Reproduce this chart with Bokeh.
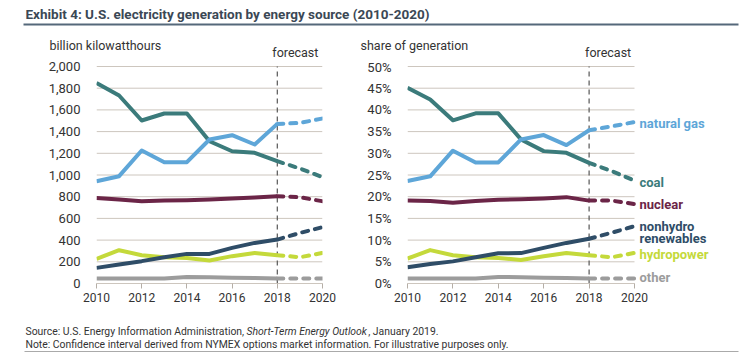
from bokeh.plotting import figure
from bokeh.models import (Range1d, FixedTicker, NumeralTickFormatter, PrintfTickFormatter,
                          Label, BoxAnnotation)
from bokeh.layouts import column, row
from bokeh.embed import file_html
from bokeh.resources import INLINE

# ---------------- data ----------------
years = [2010, 2011, 2012, 2013, 2014, 2015, 2016, 2017, 2018, 2019, 2020]
forecast_year = 2018

series = ["natural gas", "coal", "nuclear", "nonhydro renewables", "hydropower", "other"]

# billion kilowatthours
gas_bkwh = [943, 989, 1226, 1118, 1118, 1327, 1367, 1281, 1471, 1480, 1521]
coal_bkwh = [1849, 1733, 1502, 1567, 1567, 1311, 1219, 1204, 1127, 1060, 980]
nuclear_bkwh = [789, 775, 758, 765, 768, 775, 783, 792, 805, 795, 758]
renew_bkwh = [144, 175, 206, 242, 273, 273, 328, 374, 405, 466, 519]
hydro_bkwh = [227, 307, 261, 242, 236, 212, 252, 282, 261, 242, 282]
other_bkwh = [46, 46, 46, 46, 60, 58, 54, 50, 46, 46, 46]

# share of generation (%)
gas_pct = [23.6, 24.7, 30.6, 27.9, 27.9, 33.2, 34.2, 31.9, 35.3, 36.2, 37.2]
coal_pct = [45.1, 42.4, 37.6, 39.2, 39.2, 33.2, 30.5, 30.1, 27.8, 25.9, 23.7]
nuclear_pct = [19.1, 19.0, 18.6, 19.0, 19.3, 19.4, 19.6, 19.9, 19.1, 19.1, 18.3]
renew_pct = [3.75, 4.5, 5.1, 6.06, 6.98, 7.0, 8.2, 9.35, 10.3, 11.7, 13.2]
hydro_pct = [5.75, 7.7, 6.5, 6.06, 5.9, 5.4, 6.3, 7.05, 6.5, 6.06, 7.05]
other_pct = [1.15, 1.15, 1.15, 1.15, 1.5, 1.45, 1.35, 1.25, 1.15, 1.15, 1.15]

left_ticks = [0, 200, 400, 600, 800, 1000, 1200, 1400, 1600, 1800, 2000]
right_ticks = [0, 5, 10, 15, 20, 25, 30, 35, 40, 45, 50]
x_ticks = [2010, 2012, 2014, 2016, 2018, 2020]

title_text = "Exhibit 4: U.S. electricity generation by energy source (2010-2020)"
left_axis_title = "billion kilowatthours"
right_axis_title = "share of generation"
forecast_text = "forecast"
source_a = "Source: U.S. Energy Information Administration,"
source_b = "Short-Term Energy Outlook"
source_c = ", January 2019."
note_text = "Note: Confidence interval derived from NYMEX options market information. For illustrative purposes only."

left_values = dict(zip(series, [gas_bkwh, coal_bkwh, nuclear_bkwh, renew_bkwh, hydro_bkwh, other_bkwh]))
right_values = dict(zip(series, [gas_pct, coal_pct, nuclear_pct, renew_pct, hydro_pct, other_pct]))

# ---------------- styles / layout ----------------
colors = {
    "natural gas": "#5ea6d8",
    "coal": "#3b7b7b",
    "nuclear": "#6b2547",
    "nonhydro renewables": "#2f4d67",
    "hydropower": "#c4d93b",
    "other": "#9c9c9c",
}
# label vertical offsets (px, up positive) relative to each series' final value
label_lines = {
    "natural gas": [("natural gas", -1)],
    "coal": [("coal", -2)],
    "nuclear": [("nuclear", 0)],
    "nonhydro renewables": [("nonhydro", 0), ("renewables", -12.5)],
    "hydropower": [("hydropower", -2)],
    "other": [("other", 1)],
}
FONT = "Roboto"
TEXT = "#333333"
GRID = "#cdc6be"

TOTAL_W = 745
TOP_H = 59
ROW_H = 251
FOOT_H = 42
FRAME_H = 224        # frame: from top of chart row to the zero line
GRID_H = 217         # pixels between zero line and top tick
BOTTOM_B = ROW_H - FRAME_H
LEFT_W, LEFT_BL, LEFT_BR, LEFT_DW = 358, 96, 36, 226
RIGHT_W, RIGHT_BL, RIGHT_BR, RIGHT_DW = TOTAL_W - 358, 49, 0, 227


def chart(values, ticks, formatter, width, b_left, b_right, data_w, labels=False):
    frame_w = width - b_left - b_right
    x_end = years[0] + (years[-1] - years[0]) * frame_w / data_w
    y_end = ticks[-1] * FRAME_H / GRID_H
    p = figure(width=width, height=ROW_H,
               x_range=Range1d(years[0], x_end), y_range=Range1d(0, y_end),
               output_backend="svg", toolbar_location=None,
               min_border_left=b_left, min_border_right=b_right,
               min_border_top=0, min_border_bottom=BOTTOM_B)
    p.outline_line_color = None
    p.xgrid.visible = False
    p.ygrid.visible = False

    # horizontal grid lines over the 2010-2020 span
    p.segment(x0=[years[0]] * len(ticks), x1=[years[-1]] * len(ticks), y0=ticks, y1=ticks,
              line_color=GRID, line_width=1)

    p.yaxis.ticker = FixedTicker(ticks=ticks)
    p.yaxis.formatter = formatter
    p.yaxis.axis_line_color = None
    p.yaxis.major_tick_line_color = None
    p.yaxis.minor_tick_line_color = None
    p.yaxis.major_tick_out = 0
    p.yaxis.major_tick_in = 0
    p.yaxis.major_label_standoff = 16
    p.yaxis.major_label_text_font = FONT
    p.yaxis.major_label_text_font_size = "13px"
    p.yaxis.major_label_text_color = TEXT

    p.xaxis.ticker = FixedTicker(ticks=x_ticks)
    p.xaxis.bounds = (years[0], years[-1])
    p.xaxis.axis_line_color = GRID
    p.xaxis.major_tick_line_color = "#b5aea6"
    p.xaxis.major_tick_out = 5
    p.xaxis.major_tick_in = 0
    p.xaxis.minor_tick_line_color = None
    p.xaxis.major_label_standoff = 4
    p.xaxis.major_label_text_font = FONT
    p.xaxis.major_label_text_font_size = "12px"
    p.xaxis.major_label_text_color = TEXT

    # forecast divider
    p.segment(x0=[forecast_year], x1=[forecast_year], y0=[0], y1=[ticks[-1]],
              line_color="#555555", line_dash="5 4", line_width=1.2)

    i = years.index(forecast_year)
    for name in reversed(series):
        v = values[name]
        p.line(years[:i + 1], v[:i + 1], line_color=colors[name], line_width=4,
               line_join="round")
        p.line(years[i:], v[i:], line_color=colors[name], line_width=4,
               line_dash="6 7", line_cap="round")
        if labels:
            for txt, dy in label_lines[name]:
                p.add_layout(Label(x=years[-1], y=v[-1], x_offset=5, y_offset=dy, text=txt,
                                   text_align="left", text_baseline="middle",
                                   text_font=FONT, text_font_style="bold",
                                   text_font_size="13px", text_color=colors[name]))
    return p


pl = chart(left_values, left_ticks, NumeralTickFormatter(format="0,0"),
           LEFT_W, LEFT_BL, LEFT_BR, LEFT_DW)
pr = chart(right_values, right_ticks, PrintfTickFormatter(format="%d%%"),
           RIGHT_W, RIGHT_BL, RIGHT_BR, RIGHT_DW, labels=True)


def blank(h):
    f = figure(width=TOTAL_W, height=h, x_range=Range1d(0, TOTAL_W), y_range=Range1d(h, 0),
               output_backend="svg", toolbar_location=None,
               x_axis_type=None, y_axis_type=None, min_border=0)
    f.outline_line_color = None
    f.xgrid.visible = False
    f.ygrid.visible = False
    return f


frac = (forecast_year - years[0]) / (years[-1] - years[0])
forecast_x_left = LEFT_BL + LEFT_DW * frac - 5
forecast_x_right = LEFT_W + RIGHT_BL + RIGHT_DW * frac - 4

tf = blank(TOP_H)
tf.add_layout(Label(x=25, y=13, text=title_text, text_align="left",
                    text_baseline="middle", text_font=FONT, text_font_style="bold",
                    text_font_size="13.5px", text_color="#3b4855"))
tf.add_layout(BoxAnnotation(left=23, right=738, top=23, bottom=25, fill_color="#55687a",
                            fill_alpha=1, line_color=None))
tf.add_layout(Label(x=49, y=44.5, text=left_axis_title, text_align="left",
                    text_baseline="middle", text_font=FONT, text_font_size="12.5px",
                    text_color=TEXT))
tf.add_layout(Label(x=360, y=44.5, text=right_axis_title, text_align="left",
                    text_baseline="middle", text_font=FONT, text_font_size="12.5px",
                    text_color=TEXT))
for fx in (forecast_x_left, forecast_x_right):
    tf.add_layout(Label(x=fx, y=52, text=forecast_text, text_align="left",
                        text_baseline="middle", text_font=FONT, text_font_size="12.5px",
                        text_color=TEXT))

ff = blank(FOOT_H)
FS = "10.4px"
ff.add_layout(Label(x=25, y=21.3, text=source_a, text_align="left", text_baseline="alphabetic",
                    text_font=FONT, text_font_size=FS, text_color=TEXT))
ff.add_layout(Label(x=246, y=21.3, text=source_b, text_align="left", text_baseline="alphabetic",
                    text_font=FONT, text_font_style="italic", text_font_size=FS,
                    text_color=TEXT))
ff.add_layout(Label(x=367.7, y=21.3, text=source_c, text_align="left",
                    text_baseline="alphabetic", text_font=FONT, text_font_size=FS,
                    text_color=TEXT))
ff.add_layout(Label(x=25, y=33.7, text=note_text, text_align="left", text_baseline="alphabetic",
                    text_font=FONT, text_font_size=FS, text_color=TEXT))
ff.add_layout(BoxAnnotation(left=24, right=738, top=40.6, bottom=41.8, fill_color="#aaaaaa",
                            fill_alpha=1, line_color=None))

layout = column(tf, row(pl, pr), ff)
open("out.html", "w").write(file_html(layout, INLINE))
